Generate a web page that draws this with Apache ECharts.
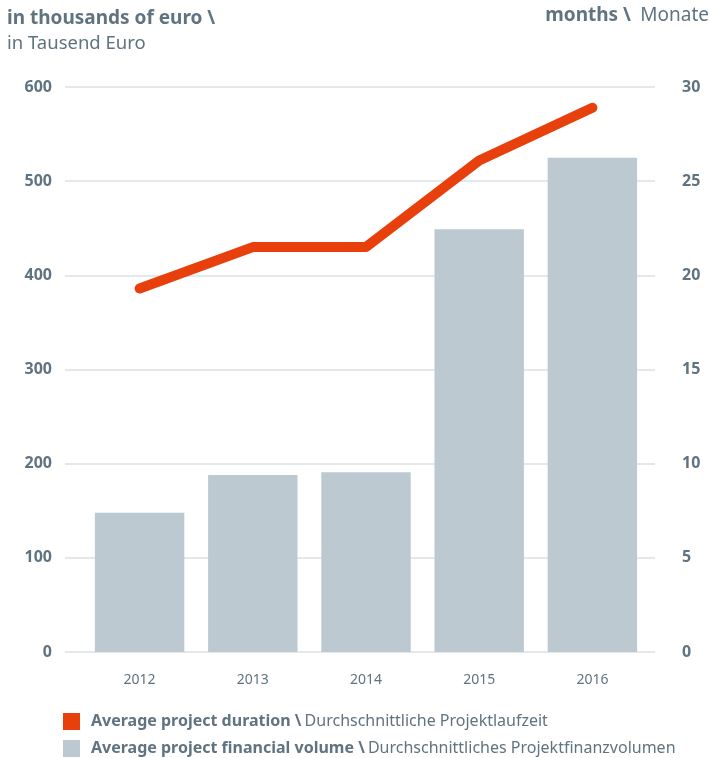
<!DOCTYPE html>
<html>
<head>
<meta charset="utf-8">
<script src="https://cdn.jsdelivr.net/npm/echarts@6/dist/echarts.min.js"></script>
<style>
  html, body { margin: 0; padding: 0; background: #fff; }
  #chart { width: 710px; height: 758px; }
</style>
</head>
<body>
<div id="chart"></div>
<script>
// Werte
var years = ['2012', '2013', '2014', '2015', '2016'];
var volume = [148, 188, 191, 449, 525];          // Tsd. Euro
var duration = [19.3, 21.5, 21.5, 26.1, 28.9];   // Monate
var leftTicks = [0, 600, 100];
var rightTicks = [0, 30, 5];

var txt = '#5f7380';
var font = 'Noto Sans';
var german = {
    'Average project duration': 'Durchschnittliche Projektlaufzeit',
    'Average project financial volume': 'Durchschnittliches Projektfinanzvolumen'
};

function richText(bSize, rSize) {
    return {
        b: { fontFamily: font, fontSize: bSize, fontWeight: 'bold', color: txt },
        r: { fontFamily: font, fontSize: rSize, fontWeight: 'normal', color: txt }
    };
}

function legendAt(top, name) {
    var rich = richText(16, 16);
    rich.b.padding = [0, 0, 0, 6];
    return {
        orient: 'vertical',
        left: 63, top: top,
        padding: 0,
        itemWidth: 17, itemHeight: 17,
        icon: 'rect',
        data: [name],
        formatter: function (n) {
            return '{b|' + n + ' \\} {r|' + german[n] + '}';
        },
        textStyle: { rich: rich }
    };
}

var myChart = echarts.init(document.getElementById('chart'));
myChart.setOption({
    animation: false,
    textStyle: { fontFamily: font, color: txt },
    title: [
        {
            left: 7, top: 6, padding: 0,
            text: '{b|in thousands of euro \\}\n{r|in Tausend Euro}',
            textStyle: { lineHeight: 25, rich: richText(19, 18.5) }
        },
        {
            right: 1, top: 6, padding: 0,
            text: '{b|months \\}  {r|Monate}',
            textStyle: { rich: richText(19, 19) }
        }
    ],
    legend: [
        legendAt(713, 'Average project duration'),
        legendAt(740, 'Average project financial volume')
    ],
    grid: [
        { left: 65, right: 55, top: 87, bottom: 106 },
        { left: 83, right: 61, top: 87, bottom: 106 }
    ],
    xAxis: [
        { gridIndex: 0, type: 'value', show: false, min: 0, max: 1 },
        {
            gridIndex: 1, type: 'category', data: years,
            axisLine: { show: false }, axisTick: { show: false },
            axisLabel: { margin: 21, fontSize: 14, color: txt, fontFamily: font }
        }
    ],
    yAxis: [
        {
            gridIndex: 0, type: 'value', position: 'left',
            min: leftTicks[0], max: leftTicks[1], interval: leftTicks[2],
            axisLine: { show: false }, axisTick: { show: false },
            axisLabel: { margin: 13, fontSize: 16, fontWeight: 'bold', color: txt, fontFamily: font },
            splitLine: { lineStyle: { color: '#e3e8eb', width: 2 } }
        },
        {
            gridIndex: 0, type: 'value', position: 'right',
            min: rightTicks[0], max: rightTicks[1], interval: rightTicks[2],
            axisLine: { show: false }, axisTick: { show: false },
            axisLabel: { margin: 27, fontSize: 16, fontWeight: 'bold', color: txt, fontFamily: font },
            splitLine: { show: false }
        },
        { gridIndex: 1, type: 'value', min: leftTicks[0], max: leftTicks[1], show: false, splitLine: { show: false } },
        { gridIndex: 1, type: 'value', min: rightTicks[0], max: rightTicks[1], show: false, splitLine: { show: false } }
    ],
    series: [
        {
            name: 'Average project financial volume',
            type: 'bar',
            xAxisIndex: 1, yAxisIndex: 2,
            data: volume,
            barCategoryGap: '21%',
            itemStyle: { color: '#bdc9d1' },
            z: 2
        },
        {
            name: 'Average project duration',
            type: 'line',
            xAxisIndex: 1, yAxisIndex: 3,
            data: duration,
            symbol: 'none',
            itemStyle: { color: '#e8400c' },
            lineStyle: { color: '#e8400c', width: 10, cap: 'round', join: 'round' },
            z: 3
        }
    ]
});
</script>
</body>
</html>
